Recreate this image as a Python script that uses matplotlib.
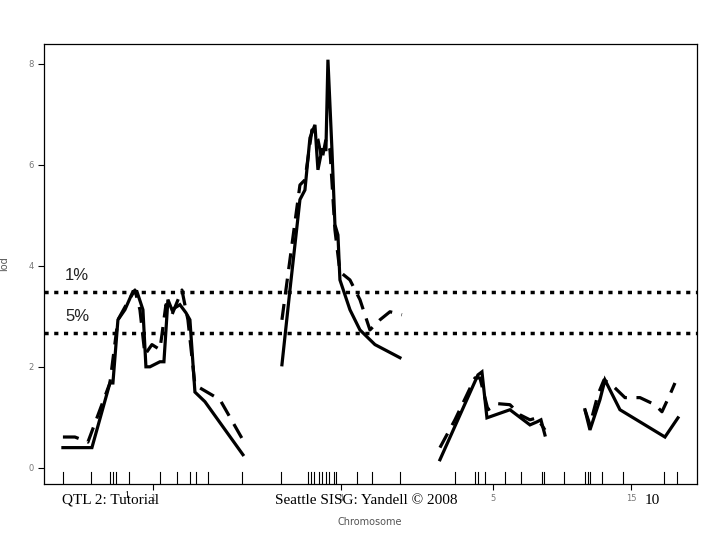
import matplotlib
matplotlib.use('Agg')
import matplotlib.pyplot as plt

# map position (cM-ish, concatenated) and LOD, solid = one method, dashed = other
chr1_x = [63, 92, 110, 113, 118, 125, 133, 137, 143, 146, 150, 160, 164, 168, 172, 180, 186, 190, 195, 205, 243]
chr1_solid = [0.40, 0.40, 1.68, 1.68, 2.93, 3.13, 3.49, 3.49, 3.13, 2.00, 2.00, 2.10, 2.10, 3.33, 3.13, 3.23, 3.07, 2.93, 1.50, 1.31, 0.26]
chr1_dx = [63, 75, 88, 110, 118, 128, 135, 140, 145, 152, 160, 166, 172, 182, 188, 195, 220, 243]
chr1_dash = [0.61, 0.61, 0.51, 1.68, 2.93, 3.29, 3.52, 3.13, 2.24, 2.44, 2.34, 3.23, 3.03, 3.52, 2.93, 1.64, 1.35, 0.55]

chr4_x = [282, 290, 300, 305, 310, 315, 318, 322, 326, 328, 332, 335, 338, 340, 350, 360, 375, 400]
chr4_solid = [2.04, 3.52, 5.31, 5.50, 6.53, 6.79, 5.90, 6.30, 6.30, 8.08, 6.30, 4.81, 4.61, 3.72, 3.13, 2.73, 2.44, 2.18]
chr4_dx = [282, 290, 300, 305, 312, 318, 322, 326, 330, 335, 340, 350, 360, 370, 380, 390, 402]
chr4_dash = [2.93, 4.12, 5.60, 5.70, 6.69, 6.50, 6.10, 6.50, 6.30, 4.71, 3.88, 3.72, 3.33, 2.73, 2.93, 3.09, 3.03]

chr5_x = [440, 478, 482, 487, 510, 530, 537, 541, 545]
chr5_solid = [0.16, 1.84, 1.90, 0.99, 1.15, 0.85, 0.91, 0.95, 0.65]
chr5_dx = [440, 455, 475, 480, 488, 498, 510, 520, 530, 537, 545]
chr5_dash = [0.40, 0.95, 1.78, 1.78, 1.15, 1.27, 1.25, 1.05, 0.95, 0.99, 0.75]

chr15_x = [585, 590, 600, 605, 620, 665, 678]
chr15_solid = [1.15, 0.75, 1.35, 1.74, 1.15, 0.61, 0.99]
chr15_dx = [585, 590, 598, 604, 612, 625, 640, 655, 662, 670, 675]
chr15_dash = [1.15, 0.85, 1.45, 1.74, 1.64, 1.39, 1.39, 1.25, 1.11, 1.45, 1.68]

thresholds = [3.49, 2.67]
threshold_labels = ['1%', '5%']

markers = [63.5, 90.8, 110.3, 113.4, 116.4, 128.6, 160.2, 176.7, 189.7, 195.8, 207.9, 241.7,
           280.8, 308.5, 310.7, 313.7, 319.4, 322.4, 325.9, 329.3, 333.7, 335.8, 357.5, 371.8, 399.6,
           455.1, 475.5, 478.5, 485.5, 505.0, 521.0, 541.8, 544.0,
           564.4, 585.2, 587.8, 590.4, 601.7, 622.9, 664.1, 677.1]
chrom_pos = [153, 341, 493, 631]
chrom_labels = ['1', '4', '5', '15']

fig = plt.figure(figsize=(7.2, 5.4), dpi=100)
ax = fig.add_axes([0.061, 0.104, 0.907, 0.815])

for xs, ys in [(chr1_x, chr1_solid), (chr4_x, chr4_solid), (chr5_x, chr5_solid), (chr15_x, chr15_solid)]:
    ax.plot(xs, ys, color='black', lw=2.3, solid_joinstyle='miter')
for xs, ys in [(chr1_dx, chr1_dash), (chr4_dx, chr4_dash), (chr5_dx, chr5_dash), (chr15_dx, chr15_dash)]:
    ax.plot(xs, ys, color='black', lw=2.3, dashes=(5, 3))

for t, lab in zip(thresholds, threshold_labels):
    ax.axhline(t, color='black', lw=2.5, dashes=(1.2, 1.6))
    ax.text(65, t + 0.17, lab, fontsize=12, color='#222222', va='bottom', family='Liberation Sans')

for m in markers:
    ax.plot([m, m], [-0.317, -0.08], color='black', lw=0.8)

ax.set_xlim(44, 697)
ax.set_ylim(-0.317, 8.396)
ax.set_yticks([0, 2, 4, 6, 8])
ax.set_yticklabels(['0', '2', '4', '6', '8'], fontsize=6, color='#777777')
ax.set_xticks(chrom_pos)
ax.set_xticklabels(chrom_labels, fontsize=6, color='#777777')
ax.tick_params(axis='both', length=4, width=0.8)
for s in ax.spines.values():
    s.set_linewidth(0.9)
ax.set_ylabel('lod', fontsize=7, color='#555555', labelpad=14)
fig.text(370 / 720, 1 - 522 / 540, 'Chromosome', fontsize=7, color='#555555', ha='center', va='center')

fig.text(62 / 720, 1 - 500 / 540, 'QTL 2: Tutorial', fontsize=11, family='Liberation Serif', va='center')
fig.text(124 / 720, 1 - 495 / 540, '1', fontsize=7, family='Liberation Serif', va='center')
fig.text(275 / 720, 1 - 500 / 540, 'Seattle SISG: Yandell © 2008', fontsize=11, family='Liberation Serif', va='center')
fig.text(645 / 720, 1 - 500 / 540, '10', fontsize=11, family='Liberation Serif', va='center')

fig.savefig('out.png', dpi=100)
